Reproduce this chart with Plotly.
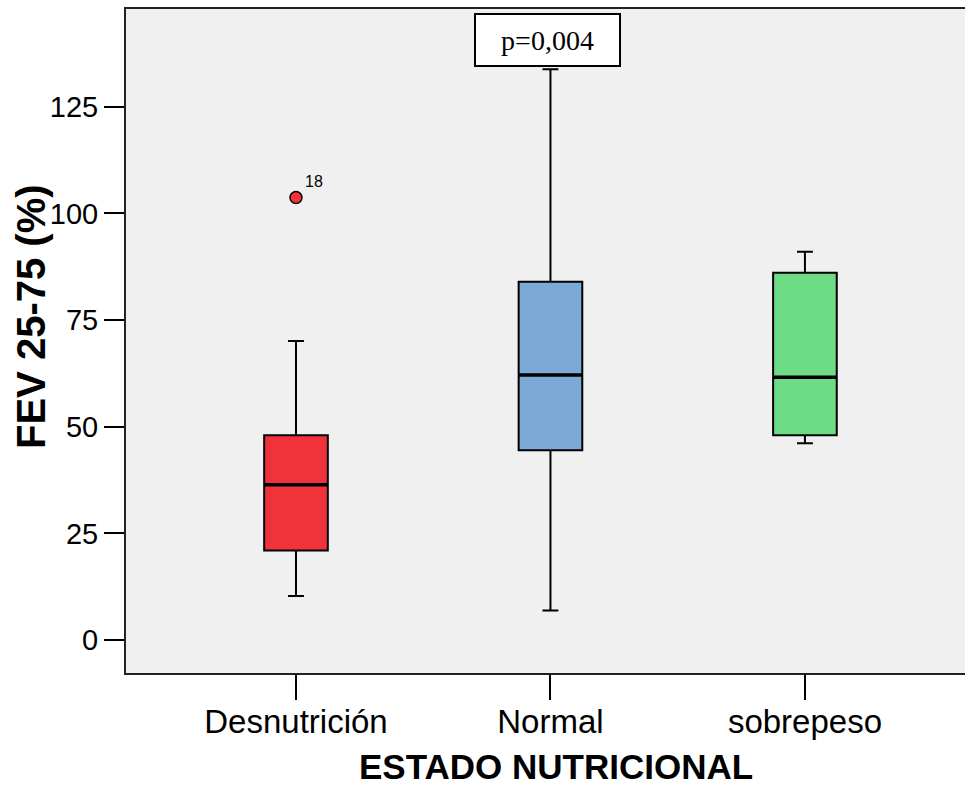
import plotly.graph_objects as go

categories = ["Desnutrición", "Normal", "sobrepeso"]
lower = [10.3, 6.9, 46.1]
q1 = [21.0, 44.5, 48.0]
median = [36.4, 62.1, 61.6]
q3 = [48.0, 84.0, 86.1]
upper = [70.1, 133.8, 91.0]
colors = ["#F0333B", "#7BAAD7", "#6EDC84"]
outlier_cat = ["Desnutrición"]
outlier_val = [103.7]
outlier_lbl = ["18"]
yticks = [0, 25, 50, 75, 100, 125]

BOX_W = 0.25
W, H = 965, 785
L, R, T, B = 126, 0, 9, 112
PW, PH = W - L - R, H - T - B


def px_to_paper(px, py):
    return (px - L) / PW, (H - B - py) / PH


fig = go.Figure()
for i, c in enumerate(categories):
    fig.add_trace(go.Box(
        x=[c], q1=[q1[i]], median=[median[i]], q3=[q3[i]],
        lowerfence=[lower[i]], upperfence=[upper[i]],
        fillcolor=colors[i], line=dict(color="black", width=2),
        width=BOX_W, whiskerwidth=0.25, boxpoints=False, showlegend=False,
        hoverinfo="skip",
    ))
    # thicker median line
    fig.add_shape(type="line", xref="x", yref="y",
                  x0=i - BOX_W / 2, x1=i + BOX_W / 2, y0=median[i], y1=median[i],
                  line=dict(color="black", width=3.5))

fig.add_trace(go.Scatter(
    x=outlier_cat, y=outlier_val, mode="markers",
    marker=dict(color="#F0333B", size=12, line=dict(color="black", width=1.5)),
    showlegend=False,
))
for c, v, t in zip(outlier_cat, outlier_val, outlier_lbl):
    fig.add_annotation(x=c, y=v, text=t, showarrow=False, xanchor="left",
                       yanchor="bottom", xshift=7, yshift=6,
                       font=dict(family="Arial, Liberation Sans", size=16, color="black"))

fig.add_annotation(x=0.99, y=140.6, xref="x", yref="y", text="p=0,004", showarrow=False,
                   xanchor="center", yanchor="middle", bgcolor="white",
                   bordercolor="black", borderwidth=2, borderpad=0, width=143, height=50,
                   font=dict(family="Liberation Serif, Times New Roman, serif", size=28, color="black"))

# axis titles as annotations for precise placement
xt = px_to_paper(556, 766)
fig.add_annotation(x=xt[0], y=xt[1], xref="paper", yref="paper",
                   text="<b>ESTADO NUTRICIONAL</b>", showarrow=False,
                   xanchor="center", yanchor="middle",
                   font=dict(family="Arial, Liberation Sans", size=35, color="black"))
yt = px_to_paper(31, 317)
fig.add_annotation(x=yt[0], y=yt[1], xref="paper", yref="paper",
                   text="<b>FEV 25-75 (%)</b>", showarrow=False, textangle=-90,
                   xanchor="center", yanchor="middle",
                   font=dict(family="Arial, Liberation Sans", size=40, color="black"))

fig.update_layout(
    width=W, height=H,
    margin=dict(l=L, r=R, t=T, b=B),
    paper_bgcolor="white", plot_bgcolor="#F0F0F0",
    font=dict(family="Arial, Liberation Sans, sans-serif", color="black"),
)
fig.update_xaxes(
    type="category", categoryorder="array", categoryarray=categories,
    range=[-0.668, 2.629], showline=True, linecolor="#222", linewidth=2, mirror=True,
    ticks="outside", ticklen=25, tickwidth=2, tickcolor="black",
    tickfont=dict(size=33), ticklabelstandoff=-7, showgrid=False, zeroline=False,
)
fig.update_yaxes(
    range=[-7.73, 147.9], tickvals=yticks, showline=True, linecolor="#222", linewidth=2,
    ticks="outside", ticklen=20, tickwidth=2, tickcolor="black",
    tickfont=dict(size=29), showgrid=False, zeroline=False,
)
fig.write_html("out.html")
